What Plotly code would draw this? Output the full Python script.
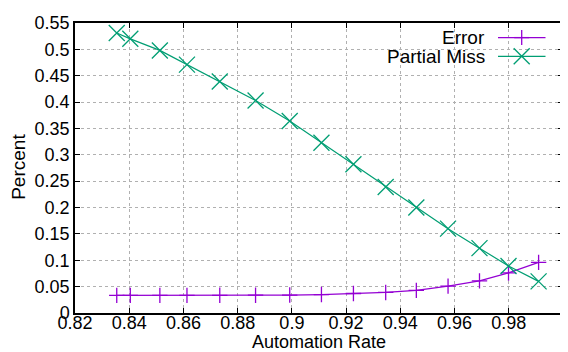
import plotly.graph_objects as go

automation_rate = [0.8354, 0.8404, 0.8513, 0.8613, 0.8734, 0.8866, 0.8992, 0.9109,
                   0.9227, 0.9346, 0.9459, 0.9576, 0.9692, 0.9799, 0.9910]
error = [0.0335, 0.0335, 0.0335, 0.0335, 0.0336, 0.0338, 0.034, 0.035,
         0.037, 0.039, 0.043, 0.051, 0.061, 0.076, 0.096]
partial_miss = [0.531, 0.520, 0.498, 0.471, 0.439, 0.403, 0.364, 0.323,
                0.282, 0.239, 0.200, 0.160, 0.123, 0.089, 0.060]
series_names = ["Error", "Partial Miss"]
x_ticks = [0.82, 0.84, 0.86, 0.88, 0.9, 0.92, 0.94, 0.96, 0.98, 1.0]
x_tick_labels = ["0.82", "0.84", "0.86", "0.88", "0.9", "0.92", "0.94", "0.96", "0.98", "1"]
y_ticks = [0, 0.05, 0.1, 0.15, 0.2, 0.25, 0.3, 0.35, 0.4, 0.45, 0.5, 0.55]
y_tick_labels = ["0", "0.05", "0.1", "0.15", "0.2", "0.25", "0.3", "0.35", "0.4", "0.45", "0.5", "0.55"]
x_title = "Automation Rate"
y_title = "Percent"

PURPLE = "#9400d3"
GREEN = "#009e73"
FONT = "Liberation Sans, Arial, Helvetica, sans-serif"
FS = 18

fig = go.Figure()
fig.add_trace(go.Scatter(x=automation_rate, y=error, mode="lines+markers", name=series_names[0],
                         line=dict(color=PURPLE, width=1.2),
                         marker=dict(symbol="cross-thin", size=11, line=dict(color=PURPLE, width=1.3))))
fig.add_trace(go.Scatter(x=automation_rate, y=partial_miss, mode="lines+markers", name=series_names[1],
                         line=dict(color=GREEN, width=1.2),
                         marker=dict(symbol="x-thin", size=16, line=dict(color=GREEN, width=1.3))))

# page has an 8px body margin; plot area in page pixels: x 75..563, y 22.7..312.7
OFF = 8
W, H = 568 - OFF, 352 - OFF
PL, PR, PT, PB = 75, 563, 22.7, 312.7
pw, ph = PR - PL, PB - PT

def px2paper(px, py):
    return (px - PL) / pw, (PB - py) / ph

shapes = []
annotations = []
legend_rows = [(series_names[0], PURPLE, "plus", 37.3), (series_names[1], GREEN, "x", 56.0)]
for name, col, kind, py in legend_rows:
    tx, ty = px2paper(487, py)
    annotations.append(dict(x=tx, y=ty, xref="paper", yref="paper", text=name, showarrow=False,
                            xanchor="right", yanchor="middle", xshift=0,
                            font=dict(family=FONT, size=19, color="black")))
    x0, y0 = px2paper(498, py)
    x1, _ = px2paper(545.5, py)
    shapes.append(dict(type="line", xref="paper", yref="paper", x0=x0, x1=x1, y0=y0, y1=y0,
                       line=dict(color=col, width=1.2)))
    cx = 521.7
    if kind == "plus":
        a, b_ = px2paper(cx - 7.5, py)
        c, d = px2paper(cx + 7.5, py)
        shapes.append(dict(type="line", xref="paper", yref="paper", x0=a, x1=c, y0=b_, y1=d,
                           line=dict(color=col, width=1.3)))
        a, b_ = px2paper(cx, py - 7.5)
        c, d = px2paper(cx, py + 7.5)
        shapes.append(dict(type="line", xref="paper", yref="paper", x0=a, x1=c, y0=b_, y1=d,
                           line=dict(color=col, width=1.3)))
    else:
        for s in (1, -1):
            a, b_ = px2paper(cx - 8, py - 8 * s)
            c, d = px2paper(cx + 8, py + 8 * s)
            shapes.append(dict(type="line", xref="paper", yref="paper", x0=a, x1=c, y0=b_, y1=d,
                               line=dict(color=col, width=1.3)))

# axis titles
tx, ty = px2paper(318.5, 341.5)
annotations.append(dict(x=tx, y=ty, xref="paper", yref="paper", text=x_title, showarrow=False,
                        xanchor="center", yanchor="middle", font=dict(family=FONT, size=FS, color="black")))
tx, ty = px2paper(19, 166.5)
annotations.append(dict(x=tx, y=ty, xref="paper", yref="paper", text=y_title, showarrow=False,
                        textangle=-90, xanchor="center", yanchor="middle",
                        font=dict(family=FONT, size=19, color="black")))

axis_common = dict(showline=True, linecolor="black", linewidth=1.5, mirror="ticks",
                   ticks="inside", ticklen=5, tickcolor="black", tickwidth=1,
                   showgrid=True, gridcolor="#b0b0b0", griddash="dot", gridwidth=1,
                   zeroline=False, tickfont=dict(family=FONT, size=FS, color="black"))

fig.update_layout(
    width=W, height=H,
    margin=dict(l=PL - OFF, r=568 - PR, t=PT - OFF, b=352 - PB, autoexpand=False),
    paper_bgcolor="white", plot_bgcolor="white",
    showlegend=False,
    font=dict(family=FONT, color="black"),
    shapes=shapes, annotations=annotations,
    xaxis=dict(range=[0.82, 1.0], tickvals=x_ticks, ticktext=x_tick_labels,
               ticklabelstandoff=-7, **axis_common),
    yaxis=dict(range=[0, 0.55], tickvals=y_ticks, ticktext=y_tick_labels, **axis_common),
)

fig.write_html("out.html")
